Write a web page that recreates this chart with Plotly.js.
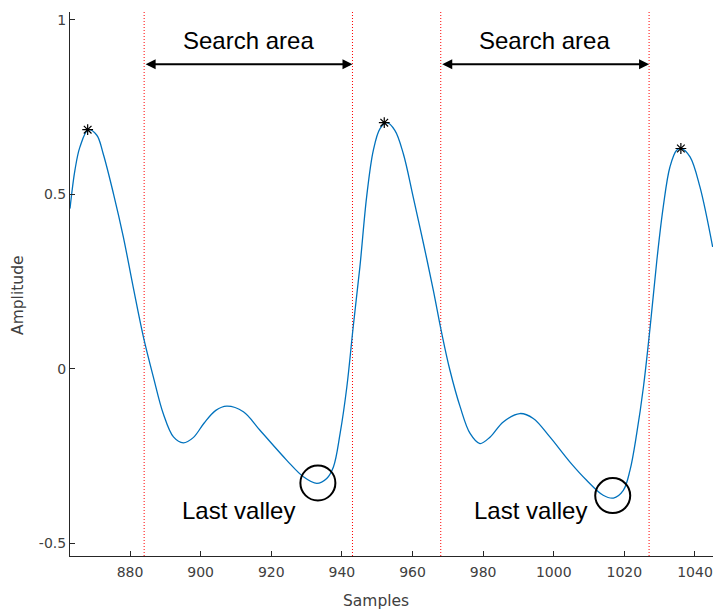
<!DOCTYPE html>
<html>
<head>
<meta charset="utf-8">
<script src="https://cdn.plot.ly/plotly-3.0.1.min.js"></script>
<style>html,body{margin:0;padding:0;background:#fff;}#chart{width:713px;height:611px;}</style>
</head>
<body>
<div id="chart"></div>
<script>
// Signal samples
const samples = [863, 864.4, 865.8, 868.2, 870.6, 872.4, 875.3, 878.1, 880.9, 883.8, 886.6, 889.4, 892.3, 895.1, 897.9, 901, 904.3, 907.4, 912.1, 916.8, 924.4, 929.1, 932.9, 935.7, 937.6, 939.5, 941.4, 943.2, 945.1, 947, 948.9, 950.8, 952.7, 955, 957.4, 960.2, 963.1, 965.9, 968.3, 970.6, 973.5, 976.3, 979.1, 982, 985.7, 990.4, 994.2, 998.9, 1004.6, 1009.3, 1014, 1016.9, 1019.7, 1021.6, 1023.5, 1025.4, 1027.3, 1029.2, 1031, 1032.9, 1034.8, 1036.2, 1038.6, 1041.4, 1045];
const amplitude = [0.459, 0.569, 0.635, 0.685, 0.669, 0.616, 0.502, 0.378, 0.234, 0.091, -0.023, -0.128, -0.195, -0.212, -0.197, -0.155, -0.119, -0.107, -0.123, -0.176, -0.262, -0.309, -0.328, -0.314, -0.281, -0.185, -0.052, 0.120, 0.292, 0.492, 0.626, 0.688, 0.705, 0.683, 0.616, 0.492, 0.359, 0.225, 0.101, -0.004, -0.109, -0.185, -0.214, -0.195, -0.152, -0.128, -0.142, -0.195, -0.267, -0.319, -0.362, -0.370, -0.348, -0.290, -0.185, -0.052, 0.120, 0.311, 0.463, 0.578, 0.626, 0.631, 0.607, 0.521, 0.349];

// Detected peaks
const peakX = [868, 952, 1036];
const peakY = [0.685, 0.705, 0.631];

// Last valleys
const valleyX = [933.2, 1016.7];
const valleyY = [-0.327, -0.363];

// Search area boundaries
const boundaries = [884, 943, 968, 1027];
const searchStart = [884, 968];
const searchEnd = [943, 1027];

// Tick labels
const xTickVals = [880, 900, 920, 940, 960, 980, 1000, 1020, 1040];
const yTickVals = [-0.5, 0, 0.5, 1];
const yTickText = ['-0.5', '0', '0.5', '1'];

const yRange = [-0.536, 1.022];
const tickFont = 'DejaVu Sans, sans-serif';
const annFont = 'Liberation Sans, Arial, sans-serif';

const traces = [];
boundaries.forEach(b => {
  traces.push({x: [b, b], y: yRange, mode: 'lines', line: {color: '#ff0000', width: 1, dash: '1px,2px'}, hoverinfo: 'skip', showlegend: false});
});
traces.push({x: samples, y: amplitude, mode: 'lines', line: {color: '#0072BD', width: 1.3, shape: 'spline', smoothing: 1}, showlegend: false});
traces.push({x: peakX, y: peakY, mode: 'markers', marker: {symbol: 'asterisk-open', size: 9, color: '#000', line: {color: '#000', width: 1.2}}, showlegend: false});
traces.push({x: valleyX, y: valleyY, mode: 'markers', marker: {symbol: 'circle-open', size: 35, color: '#000', line: {color: '#000', width: 2}}, showlegend: false});

const annotations = [];
for (let i = 0; i < searchStart.length; i++) {
  const mid = (searchStart[i] + searchEnd[i]) / 2;
  annotations.push({x: mid, y: 0.941, xref: 'x', yref: 'y', text: 'Search area', showarrow: false,
    font: {family: annFont, size: 24, color: '#000'}});
  annotations.push({x: searchEnd[i], y: 0.872, ax: searchStart[i], ay: 0.872, xref: 'x', yref: 'y', axref: 'x', ayref: 'y',
    text: '', showarrow: true, arrowhead: 2, arrowside: 'end+start', arrowsize: 1, arrowwidth: 2, arrowcolor: '#000', standoff: 0, startstandoff: 0});
}
const lastValleyX = [910.7, 993.4];
lastValleyX.forEach(x => {
  annotations.push({x: x, y: -0.405, xref: 'x', yref: 'y', text: 'Last valley', showarrow: false,
    font: {family: annFont, size: 24, color: '#000'}});
});
// Axis titles
annotations.push({x: 0.4759, y: -0.0827, xref: 'paper', yref: 'paper', text: 'Samples', showarrow: false,
  xanchor: 'center', yanchor: 'middle', font: {family: tickFont, size: 15.5, color: '#404040'}});
annotations.push({x: -0.0801, y: 0.479, xref: 'paper', yref: 'paper', text: 'Amplitude', showarrow: false, textangle: -90,
  xanchor: 'center', yanchor: 'middle', font: {family: tickFont, size: 15.5, color: '#404040'}});

const layout = {
  width: 713, height: 611,
  margin: {l: 70, r: 0, t: 12, b: 55, pad: 0},
  paper_bgcolor: '#fff', plot_bgcolor: '#fff',
  font: {family: tickFont, size: 14, color: '#404040'},
  xaxis: {range: [863, 1045.1], tickvals: xTickVals, ticks: 'inside', ticklen: 5, tickcolor: '#262626', tickwidth: 1,
    showline: true, linecolor: '#262626', linewidth: 1, showgrid: false, zeroline: false,
    tickfont: {family: tickFont, size: 14, color: '#404040'}, ticklabelstandoff: 3},
  yaxis: {range: yRange, tickvals: yTickVals, ticktext: yTickText, ticks: 'inside', ticklen: 5, tickcolor: '#262626', tickwidth: 1,
    showline: true, linecolor: '#262626', linewidth: 1, showgrid: false, zeroline: false,
    tickfont: {family: tickFont, size: 14, color: '#404040'}},
  annotations: annotations,
  showlegend: false
};

Plotly.newPlot('chart', traces, layout, {displayModeBar: false, staticPlot: true});
</script>
</body>
</html>
